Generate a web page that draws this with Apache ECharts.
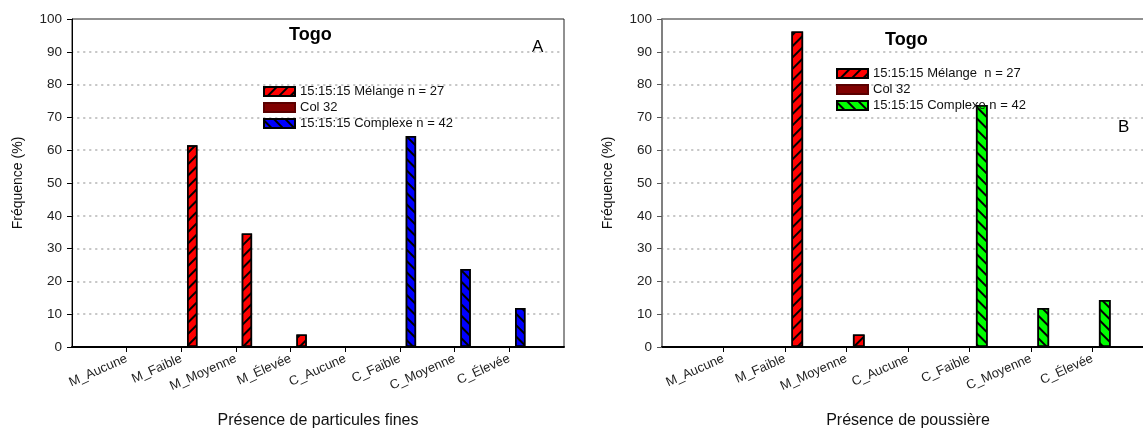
<!DOCTYPE html>
<html>
<head>
<meta charset="utf-8">
<script src="https://cdn.jsdelivr.net/npm/echarts@6/dist/echarts.min.js"></script>
<style>html,body{margin:0;padding:0;background:#fff;overflow:hidden}#c{width:1143px;height:430px}</style>
</head>
<body>
<div id="c"></div>
<script>
// ---- data ----
const catsA = ['M_Aucune','M_Faible','M_Moyenne','M_Élevée','C_Aucune','C_Faible','C_Moyenne','C_Élevée'];
const melangeA = [0, 61.5, 34.6, 3.8, null, null, null, null];
const col32A = [null, null, null, null, null, null, null, null];
const complexeA = [null, null, null, null, 0, 64.3, 23.8, 11.9];

const catsB = ['M_Aucune','M_Faible','M_Moyenne','C_Aucune','C_Faible','C_Moyenne','C_Élevée'];
const melangeB = [0, 96.2, 3.8, null, null, null, null];
const col32B = [null, null, null, null, null, null, null];
const complexeB = [null, null, null, 0, 73.8, 11.9, 14.3];

const yMin = 0, yMax = 100, yStep = 10;
const titleText = 'Togo';
const xNameA = 'Présence de particules fines';
const xNameB = 'Présence de poussière';
const yName = 'Fréquence (%)';
const legendA = ['15:15:15 Mélange n = 27', 'Col 32', '15:15:15 Complexe n = 42'];
const legendB = ['15:15:15 Mélange  n = 27', 'Col 32', '15:15:15 Complexe n = 42'];

// ---- helpers ----
const FONT = '"Liberation Sans", Arial, sans-serif';
const padCats = c => [' ', ...c, '  '];
const padVals = v => [null, ...v, null];
const hatch = rot => ({ symbol: 'rect', symbolSize: 1, dashArrayX: [1, 0], dashArrayY: [2, 6], rotation: rot, color: '#000' });

function xAxis(gi, cats, name) {
  const n = cats.length + 2;
  return {
    type: 'category', gridIndex: gi, data: padCats(cats), boundaryGap: false,
    name: name, nameLocation: 'middle', nameGap: 66,
    nameTextStyle: { fontFamily: FONT, fontSize: 16, color: '#111' },
    axisLine: { lineStyle: { color: '#000', width: 2 } },
    axisTick: { length: 5, lineStyle: { color: '#000', width: 1 }, interval: (i) => i > 0 && i < n - 1 },
    axisLabel: { interval: 0, rotate: 24, margin: 11, fontFamily: FONT, fontSize: 13, color: '#222' },
    splitLine: { show: false }
  };
}
function yAxis(gi, lineColor, lineWidth, tickColor) {
  return {
    type: 'value', gridIndex: gi, min: yMin, max: yMax, interval: yStep,
    name: yName, nameLocation: 'middle', nameGap: 47, nameRotate: 90,
    nameTextStyle: { fontFamily: FONT, fontSize: 14, color: '#111' },
    axisLine: { show: true, lineStyle: { color: lineColor, width: lineWidth } },
    axisTick: { show: true, length: 5, lineStyle: { color: tickColor, width: 1 } },
    axisLabel: { margin: 10, fontFamily: FONT, fontSize: 13.5, color: '#222' },
    splitLine: { show: true, showMinLine: false, showMaxLine: false,
      lineStyle: { color: '#c6c6c6', width: 2.2, type: [0.5, 5.5], cap: 'round' } }
  };
}
function barSeries(name, gi, data, color, decal, stack) {
  const s = {
    type: 'bar', name: name, xAxisIndex: gi, yAxisIndex: gi, data: padVals(data),
    barWidth: '19%', barGap: '110%',
    itemStyle: { color: color, borderColor: '#000', borderWidth: 1.5 }
  };
  if (decal) s.itemStyle.decal = decal;
  if (stack) s.stack = stack;
  return s;
}

const option = {
  animation: false,
  backgroundColor: '#fff',
  grid: [
    { left: 72, top: 19, width: 492, height: 328, show: true, borderColor: '#222', borderWidth: 1, outerBoundsMode: 'none', containLabel: false },
    { left: 662, top: 19, width: 492, height: 328, show: true, borderColor: '#222', borderWidth: 1, outerBoundsMode: 'none', containLabel: false }
  ],
  title: [
    { text: titleText, left: 289, top: 26, padding: 0, textStyle: { fontFamily: FONT, fontSize: 18, fontWeight: 'bold', color: '#000' } },
    { text: titleText, left: 885, top: 31, padding: 0, textStyle: { fontFamily: FONT, fontSize: 18, fontWeight: 'bold', color: '#000' } }
  ],
  legend: [
    { data: ['A0', 'A1', 'A2'], formatter: n => legendA[+n.slice(1)], orient: 'vertical', left: 263, top: 85, padding: 0,
      itemWidth: 31, itemHeight: 9, itemGap: 3, icon: 'rect', selectedMode: false,
      textStyle: { fontFamily: FONT, fontSize: 13, color: '#111' } },
    { data: ['B0', 'B1', 'B2'], formatter: n => legendB[+n.slice(1)], orient: 'vertical', left: 836, top: 67, padding: 0,
      itemWidth: 31, itemHeight: 9, itemGap: 3, icon: 'rect', selectedMode: false,
      textStyle: { fontFamily: FONT, fontSize: 13, color: '#111' } }
  ],
  graphic: [
    { type: 'text', left: 532, top: 39, style: { text: 'A', font: '17px ' + FONT, fill: '#000' } },
    { type: 'text', left: 1118, top: 119, style: { text: 'B', font: '17px ' + FONT, fill: '#000' } }
  ],
  xAxis: [xAxis(0, catsA, xNameA), xAxis(1, catsB, xNameB)],
  yAxis: [yAxis(0, '#000', 1, '#000'), yAxis(1, '#808080', 2, '#555')],
  series: [
    Object.assign(barSeries('A1', 0, col32A, '#800000', null, null), { itemStyle: { color: '#800000', borderColor: '#5a0000', borderWidth: 1 } }),
    barSeries('A0', 0, melangeA, '#ff0000', hatch(-Math.PI / 4), 'a'),
    barSeries('A2', 0, complexeA, '#0000ff', hatch(Math.PI / 4), 'a'),
    Object.assign(barSeries('B1', 1, col32B, '#800000', null, null), { itemStyle: { color: '#800000', borderColor: '#5a0000', borderWidth: 1 } }),
    barSeries('B0', 1, melangeB, '#ff0000', hatch(-Math.PI / 4), 'b'),
    barSeries('B2', 1, complexeB, '#00ff00', hatch(Math.PI / 4), 'b')
  ]
};
const chart = echarts.init(document.getElementById('c'), null, { renderer: 'canvas' });
chart.setOption(option);
</script>
</body>
</html>
